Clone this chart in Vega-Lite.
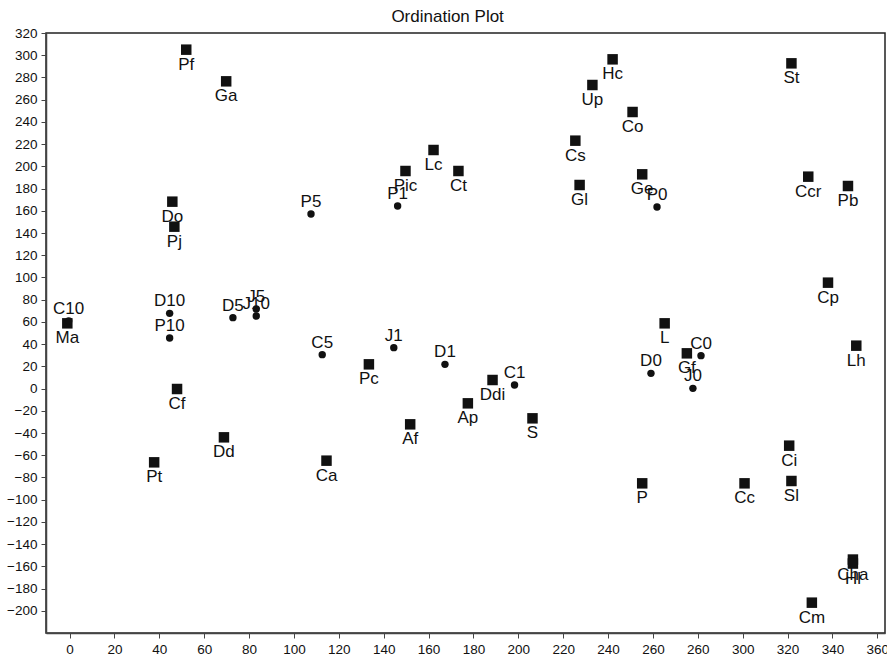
{
  "$schema": "https://vega.github.io/schema/vega-lite/v6.json",
  "width": 839,
  "height": 600,
  "autosize": {"type": "none"},
  "padding": {"left": 46, "top": 33, "right": 2, "bottom": 27},
  "background": "white",
  "title": {"text": "Ordination Plot", "fontSize": 17, "font": "Liberation Sans", "fontWeight": "normal", "color": "#111", "anchor": "middle", "frame": "bounds", "offset": 0, "dy": 0},
  "config": {
    "view": {"stroke": "#222", "strokeWidth": 1.5},
    "axis": {"grid": false, "domainColor": "#444", "domainWidth": 1.5, "tickColor": "#444", "tickSize": 5, "labelFont": "Liberation Sans", "labelFontSize": 13.5, "labelColor": "#111", "title": null}
  },
  "data": {"values": [
    {"label": "Pf", "x": 52, "y": 305, "type": "sq"},
    {"label": "Ga", "x": 69.8, "y": 276.5, "type": "sq"},
    {"label": "Do", "x": 45.8, "y": 168.2, "type": "sq"},
    {"label": "Pj", "x": 46.7, "y": 145.7, "type": "sq"},
    {"label": "Hc", "x": 242, "y": 296.3, "type": "sq"},
    {"label": "Up", "x": 233, "y": 273.2, "type": "sq"},
    {"label": "Co", "x": 250.9, "y": 248.9, "type": "sq"},
    {"label": "Cs", "x": 225.4, "y": 223.1, "type": "sq"},
    {"label": "Gl", "x": 227.3, "y": 183.2, "type": "sq"},
    {"label": "Ge", "x": 255.2, "y": 192.8, "type": "sq"},
    {"label": "St", "x": 321.7, "y": 292.7, "type": "sq"},
    {"label": "Ccr", "x": 329.2, "y": 190.7, "type": "sq"},
    {"label": "Pb", "x": 346.9, "y": 182.3, "type": "sq"},
    {"label": "Lc", "x": 162.2, "y": 214.7, "type": "sq"},
    {"label": "Pic", "x": 149.7, "y": 195.8, "type": "sq"},
    {"label": "Ct", "x": 173.3, "y": 195.8, "type": "sq"},
    {"label": "Cp", "x": 338, "y": 95.3, "type": "sq"},
    {"label": "L", "x": 265.2, "y": 58.7, "type": "sq"},
    {"label": "Lh", "x": 350.6, "y": 38.6, "type": "sq"},
    {"label": "Gf", "x": 275.1, "y": 31.7, "type": "sq"},
    {"label": "Ma", "x": -1, "y": 58.7, "type": "sq"},
    {"label": "Cf", "x": 47.9, "y": -0.4, "type": "sq"},
    {"label": "Pc", "x": 133.4, "y": 21.8, "type": "sq"},
    {"label": "Ddi", "x": 188.5, "y": 7.7, "type": "sq"},
    {"label": "Ap", "x": 177.5, "y": -13.3, "type": "sq"},
    {"label": "Af", "x": 151.8, "y": -32.2, "type": "sq"},
    {"label": "S", "x": 206.3, "y": -26.8, "type": "sq"},
    {"label": "Dd", "x": 68.8, "y": -43.9, "type": "sq"},
    {"label": "Pt", "x": 37.7, "y": -66.4, "type": "sq"},
    {"label": "Ca", "x": 114.5, "y": -64.9, "type": "sq"},
    {"label": "Ci", "x": 320.7, "y": -51.4, "type": "sq"},
    {"label": "P", "x": 255.2, "y": -85.3, "type": "sq"},
    {"label": "Cc", "x": 300.8, "y": -85.3, "type": "sq"},
    {"label": "Sl", "x": 321.7, "y": -83.2, "type": "sq"},
    {"label": "Cha", "x": 349.1, "y": -153.9, "type": "sq"},
    {"label": "Hl", "x": 349.1, "y": -157.5, "type": "sq"},
    {"label": "Cm", "x": 330.8, "y": -192.7, "type": "sq"},
    {"label": "P5", "x": 107.6, "y": 157.1, "type": "ci"},
    {"label": "P1", "x": 146.2, "y": 164.3, "type": "ci"},
    {"label": "P0", "x": 261.8, "y": 163.4, "type": "ci"},
    {"label": "C10", "x": -0.4, "y": 60.8, "type": "ci"},
    {"label": "D10", "x": 44.6, "y": 67.7, "type": "ci"},
    {"label": "P10", "x": 44.6, "y": 45.5, "type": "ci"},
    {"label": "D5", "x": 72.8, "y": 63.8, "type": "ci"},
    {"label": "J5", "x": 83.2, "y": 71.6, "type": "ci"},
    {"label": "J10", "x": 83.2, "y": 65.3, "type": "ci"},
    {"label": "C5", "x": 112.6, "y": 30.5, "type": "ci"},
    {"label": "J1", "x": 144.5, "y": 36.8, "type": "ci"},
    {"label": "D1", "x": 167.3, "y": 21.8, "type": "ci"},
    {"label": "C1", "x": 198.3, "y": 3.2, "type": "ci"},
    {"label": "C0", "x": 281.4, "y": 29.6, "type": "ci"},
    {"label": "D0", "x": 259.1, "y": 13.7, "type": "ci"},
    {"label": "J0", "x": 277.8, "y": 0.2, "type": "ci"}
  ]},
  "encoding": {
    "x": {"field": "x", "type": "quantitative", "scale": {"domain": [-10.5, 363.4], "nice": false, "zero": false},
          "axis": {"values": [0,20,40,60,80,100,120,140,160,180,200,220,240,260,280,300,320,340,360], "labelExpr": "datum.value == 280 ? '260' : datum.label", "labelPadding": 4}},
    "y": {"field": "y", "type": "quantitative", "scale": {"domain": [-220, 320], "nice": false, "zero": false},
          "axis": {"values": [-200,-180,-160,-140,-120,-100,-80,-60,-40,-20,0,20,40,60,80,100,120,140,160,180,200,220,240,260,280,300,320], "labelPadding": 4}}
  },
  "layer": [
    {"transform": [{"filter": "datum.type == 'sq'"}], "mark": {"type": "point", "shape": "square", "filled": true, "size": 110, "color": "#111", "opacity": 1}},
    {"transform": [{"filter": "datum.type == 'ci'"}], "mark": {"type": "point", "shape": "circle", "filled": true, "size": 55, "color": "#111", "opacity": 1}},
    {"transform": [{"filter": "datum.type == 'sq'"}], "mark": {"type": "text", "font": "Liberation Sans", "fontSize": 17, "color": "#111", "baseline": "middle", "align": "center", "dy": 15}, "encoding": {"text": {"field": "label"}}},
    {"transform": [{"filter": "datum.type == 'ci'"}], "mark": {"type": "text", "font": "Liberation Sans", "fontSize": 17, "color": "#111", "baseline": "middle", "align": "center", "dy": -12}, "encoding": {"text": {"field": "label"}}}
  ]
}
